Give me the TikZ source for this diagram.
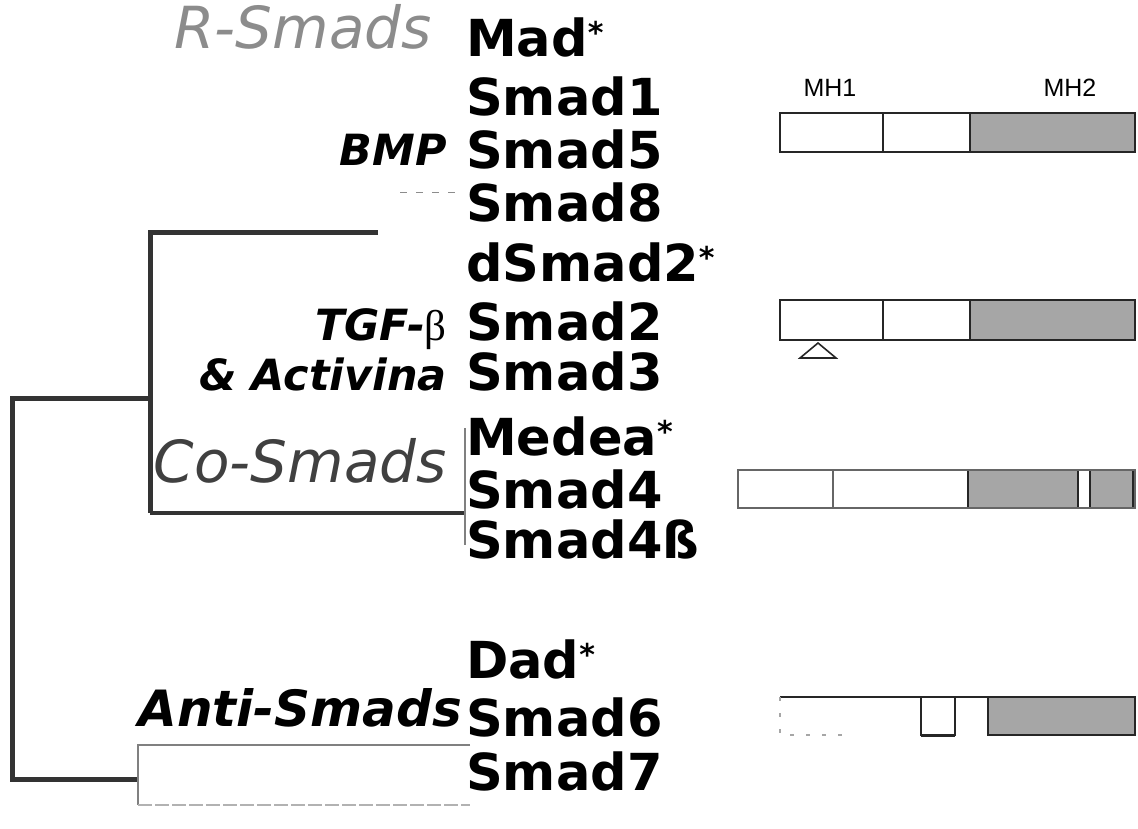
\documentclass[tikz,border=0pt]{standalone}
\usepackage{fontspec}
\setmainfont{DejaVu Sans}
\newfontfamily\mhfont{Liberation Sans}
\newfontfamily\greekfont{Liberation Serif}
\newcommand{\smadstar}{\raisebox{0.25em}{\fontsize{30}{30}\selectfont *}}
\tikzset{
  smadname/.style={anchor=base west, inner sep=0pt, font=\fontsize{51}{51}\selectfont\bfseries},
  grouplabel/.style={anchor=base east, inner sep=0pt, font=\fontsize{43}{43}\selectfont\bfseries\itshape},
  classlabel/.style={anchor=base east, inner sep=0pt, font=\fontsize{58}{58}\selectfont\itshape},
  mhlabel/.style={inner sep=0pt, font=\mhfont\fontsize{25}{25}\selectfont},
  branch/.style={line width=5pt, draw=black!80},
  twig/.style={line width=2.5pt, draw=black!50},
  domainbox/.style={draw=black!85, line width=1.6pt},
  mhtwo/.style={fill=black!35},
}
\begin{document}
\begin{tikzpicture}[x=1pt, y=-1pt]
    \useasboundingbox (0,0) rectangle (1138,828);

    % class and ligand labels
    \node[classlabel, text=black!45] (rsmads) at (432,48) {R-Smads};
    \node[grouplabel] (bmp) at (447,165) {BMP};
    \node[grouplabel] (tgfb) at (447,340) {TGF-{\greekfont\mdseries\upshape β}};
    \node[grouplabel] (activina) at (447,390) {\& Activina};
    \node[classlabel, text=black!75] (cosmads) at (447,482) {Co-Smads};
    \node[grouplabel, font=\fontsize{50}{50}\selectfont\bfseries\itshape] (antismads) at (462,726) {Anti-Smads};

    % protein names
    \foreach \name/\txt/\y in {mad/Mad\smadstar/56, smadone/Smad1/115, smadfive/Smad5/168,
        smadeight/Smad8/221, dsmadtwo/dSmad2\smadstar/281, smadtwo/Smad2/340,
        smadthree/Smad3/390, medea/Medea\smadstar/455, smadfour/Smad4/508,
        smadfourb/Smad4ß/558, dad/Dad\smadstar/678, smadsix/Smad6/736, smadseven/Smad7/790}
        \node[smadname] (\name) at (466,\y) {\txt};

    % tree
    \coordinate (rtop) at (150,232);
    \coordinate (rend) at (378,232);
    \coordinate (rmid) at (150,398);
    \coordinate (cojoin) at (150,513);
    \coordinate (coend) at (465,513);
    \coordinate (cotop) at (465,428);
    \coordinate (cobot) at (465,545);
    \coordinate (roottop) at (12,398);
    \coordinate (rootbot) at (12,779);
    \coordinate (antijoin) at (138,779);
    \coordinate (antitop) at (138,745);
    \coordinate (antibot) at (138,805);
    \coordinate (antitopend) at (470,745);
    \coordinate (antibotend) at (470,805);
    \draw[branch] (rend) -- (rtop) -- (cojoin);
    \draw[branch, line width=3.5pt] (cojoin) -- (coend);
    \draw[branch] (rmid) -- (roottop) -- (rootbot) -- (antijoin);
    \draw[twig] (cotop) -- (cobot);
    \draw[twig] (antitopend) -- (antitop) -- (antibot);
    \draw[twig, draw=black!30, dash pattern=on 14pt off 3pt] (antibot) -- (antibotend);
    \draw[black!45, line width=1pt, dash pattern=on 7pt off 9pt] (400,192) -- (460,192);

    % domain structures
    \node[mhlabel] (mhone) at (830,88) {MH1};
    \node[mhlabel] (mhtwolabel) at (1070,88) {MH2};

    \filldraw[domainbox, mhtwo] (970,113) rectangle (1135,152);
    \draw[domainbox] (780,113) rectangle (1135,152);
    \draw[domainbox] (883,113) -- (883,152);

    \filldraw[domainbox, mhtwo] (970,300) rectangle (1135,340);
    \draw[domainbox] (780,300) rectangle (1135,340);
    \draw[domainbox] (883,300) -- (883,340);
    \draw[domainbox] (818,343) -- (800,358) -- (836,358) -- cycle;

    \filldraw[domainbox, mhtwo] (968,470) rectangle (1078,508);
    \filldraw[domainbox, mhtwo] (1090,470) rectangle (1133,508);
    \draw[domainbox, draw=black!60] (738,470) rectangle (1135,508);
    \draw[domainbox, draw=black!60] (833,470) -- (833,508);

    \draw[domainbox] (780,697) -- (1135,697);
    \draw[domainbox, draw=black!35, dash pattern=on 4pt off 12pt] (780,697) -- (780,735) -- (850,735);
    \draw[domainbox] (921,697) rectangle (955,735);
    \draw[domainbox, line width=3pt] (921,735) -- (955,735);
    \filldraw[domainbox, mhtwo] (988,697) rectangle (1135,735);
\end{tikzpicture}
\end{document}
